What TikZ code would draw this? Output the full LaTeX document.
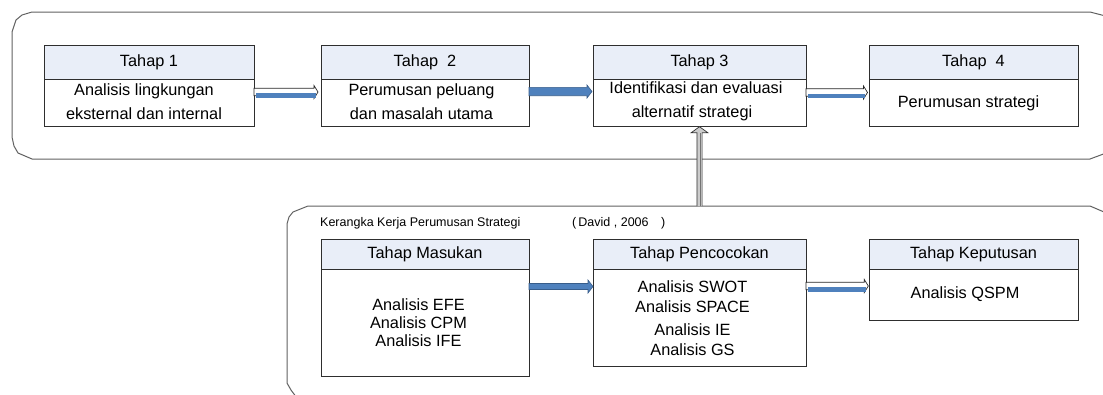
\documentclass[tikz,border=0pt]{standalone}
\usepackage{fontspec}
\setmainfont{Liberation Sans}
\usetikzlibrary{calc}

\definecolor{hdr}{RGB}{233,238,248}
\definecolor{arrblue}{RGB}{79,129,189}
\definecolor{arredge}{RGB}{56,93,138}
\definecolor{arrgray}{RGB}{204,204,204}

\newcommand\stagefont{\fontsize{16.3}{23.5}\selectfont}
\newcommand\notefont{\fontsize{12.5}{15}\selectfont}

% solid blue block arrow: #1 start, #2 tip, #3 half shaft width
\newcommand\bluearrow[3]{%
  \draw[bluearr] let \p1=(#1), \p2=(#2) in
    (\x1,\y1+#3) -- (\x2-5pt,\y1+#3) -- (\x2-5pt,\y1+6.5pt) -- (\x2,\y1)
    -- (\x2-5pt,\y1-6.5pt) -- (\x2-5pt,\y1-#3) -- (\x1,\y1-#3) -- cycle;}

% outlined block arrow with an offset blue band
\newcommand\bandarrow[2]{%
  \draw[bandout] let \p1=(#1), \p2=(#2) in
    (\x1,\y1+3.7pt) -- (\x2-4pt,\y1+3.7pt) -- (\x2-4pt,\y1+6.5pt) -- (\x2,\y1)
    -- (\x2-4pt,\y1-6.5pt) -- (\x2-4pt,\y1-3.7pt) -- (\x1,\y1-3.7pt) -- cycle;
  \fill[arrblue] let \p1=(#1), \p2=(#2) in
    (\x1+1.5pt,\y1-1.2pt) rectangle (\x2-2.5pt,\y1-5.6pt);}

% grey upward block arrow: #1 foot, #2 tip
\newcommand\grayarrow[2]{%
  \draw[grayarr] let \p1=(#1), \p2=(#2) in
    (\x1-2.6pt,\y1) -- (\x1-2.6pt,\y2-6pt) -- (\x1-8.3pt,\y2-6pt) -- (\x1,\y2)
    -- (\x1+8.3pt,\y2-6pt) -- (\x1+2.6pt,\y2-6pt) -- (\x1+2.6pt,\y1);
  \draw[black!55, line width=0.9pt] let \p1=(#1), \p2=(#2) in
    (\x1+0.6pt,\y1) -- (\x1+0.6pt,\y2-6.5pt);}

\tikzset{
  frame/.style={draw=black!62, line width=1pt, line join=round},
  head/.style={draw=black!82, fill=hdr, line width=1pt, inner sep=0pt, outer sep=0pt,
    anchor=north west, minimum height=34pt, font=\stagefont},
  body/.style={draw=black!82, fill=white, line width=1pt, inner sep=0pt, outer sep=0pt,
    anchor=north west},
  txt/.style={align=center, inner sep=0pt, font=\stagefont},
  note/.style={anchor=west, inner sep=0pt, font=\notefont},
  bluearr/.style={fill=arrblue, draw=arredge, line width=0.6pt},
  bandout/.style={fill=white, draw=black!85, line width=0.7pt},
  grayarr/.style={fill=arrgray, draw=black!80, line width=0.7pt},
}

\begin{document}
\begin{tikzpicture}[x=1pt, y=-1pt]
\useasboundingbox (0,0) rectangle (1103,394);
\clip (0,0) rectangle (1103,394);

% outer frames
\draw[frame] (1125,21) -- (1090,12) -- (32,12) -- (22,15) -- (16,20) -- (12,32)
  -- (12,137) -- (14,146) -- (18,153) -- (32,159) -- (1090,159) -- (1125,146);
\draw[frame] (1125,221) -- (1090,206) -- (308,206) -- (293,212) -- (289,217) -- (287,224)
  -- (287,383) -- (291,390) -- (297,398);
\coordinate (lowtop) at (308,206);

% upper row of stages
\node[head, minimum width=210pt] (t1h) at (44,45) {Tahap 1};
\node[body, minimum width=210pt, minimum height=47pt] (t1b) at (t1h.south west) {};
\node[head, minimum width=208pt] (t2h) at (321,45) {Tahap~ 2};
\node[body, minimum width=208pt, minimum height=47pt] (t2b) at (t2h.south west) {};
\node[head, minimum width=213pt] (t3h) at (593,45) {Tahap 3};
\node[body, minimum width=213pt, minimum height=47pt] (t3b) at (t3h.south west) {};
\node[head, minimum width=209pt] (t4h) at (869,45) {Tahap~ 4};
\node[body, minimum width=209pt, minimum height=47pt] (t4b) at (t4h.south west) {};

\node[txt] (t1t) at (144,101.7) {Analisis lingkungan\\eksternal dan internal};
\node[txt] (t2t) at (421.5,101.5) {Perumusan peluang\\dan masalah utama};
\node[txt] (t3t) at (692,101.5) {Identifikasi dan evaluasi\hspace*{-8pt}\\alternatif strategi};
\node[txt] (t4t) at (968.5,103) {Perumusan strategi};

% lower row of stages
\node[note] (cap) at (320,223) {Kerangka Kerja Perumusan Strategi};
\node[note] (src) at (572,223) {(\,David , 2006\quad)};

\node[head, minimum width=208pt, minimum height=30.5pt] (mh) at (321,239) {Tahap Masukan};
\node[body, minimum width=208pt, minimum height=106.5pt] (mb) at (mh.south west) {};
\node[head, minimum width=213pt, minimum height=30pt] (ph) at (593,239) {Tahap Pencocokan};
\node[body, minimum width=213pt, minimum height=97pt] (pb) at (ph.south west) {};
\node[head, minimum width=209pt, minimum height=30pt] (kh) at (869,239) {Tahap Keputusan};
\node[body, minimum width=209pt, minimum height=51pt] (kb) at (kh.south west) {};

\node[txt, font=\fontsize{16.3}{18}\selectfont] (mt) at (418.5,323)
  {Analisis EFE\\Analisis CPM\\Analisis IFE};
\node[txt, font=\fontsize{16.3}{20}\selectfont] (pt) at (692.5,318.5)
  {Analisis SWOT\\Analisis SPACE\\[3pt]Analisis IE\\Analisis GS};
\node[txt] (kt) at (965,294) {Analisis QSPM};

% connectors between stages
\coordinate (a1s) at ([yshift=-13pt]t1b.north east);
\coordinate (a1e) at ($(t2b.west |- a1s)+(-3,0)$);
\bandarrow{a1s}{a1e}

\coordinate (a2s) at ([yshift=-12.5pt]t2b.north east);
\coordinate (a2e) at ($(t3b.west |- a2s)+(-1,0)$);
\bluearrow{a2s}{a2e}{4.2pt}

\coordinate (a3s) at ([yshift=-13.5pt]t3b.north east);
\coordinate (a3e) at ($(t4b.west |- a3s)+(-1.5,0)$);
\bandarrow{a3s}{a3e}

\coordinate (a4s) at ([yshift=-17pt]mb.north east);
\coordinate (a4e) at (pb.west |- a4s);
\bluearrow{a4s}{a4e}{3pt}

\coordinate (a5s) at ([yshift=-17pt]pb.north east);
\coordinate (a5e) at ($(kb.west |- a5s)+(-0.7,0)$);
\bandarrow{a5s}{a5e}

% link from the framework up to stage 3
\coordinate (vfoot) at (t3b.south |- lowtop);
\coordinate (vtip) at ([yshift=-0.7pt]t3b.south);
\grayarrow{vfoot}{vtip}
\end{tikzpicture}
\end{document}
